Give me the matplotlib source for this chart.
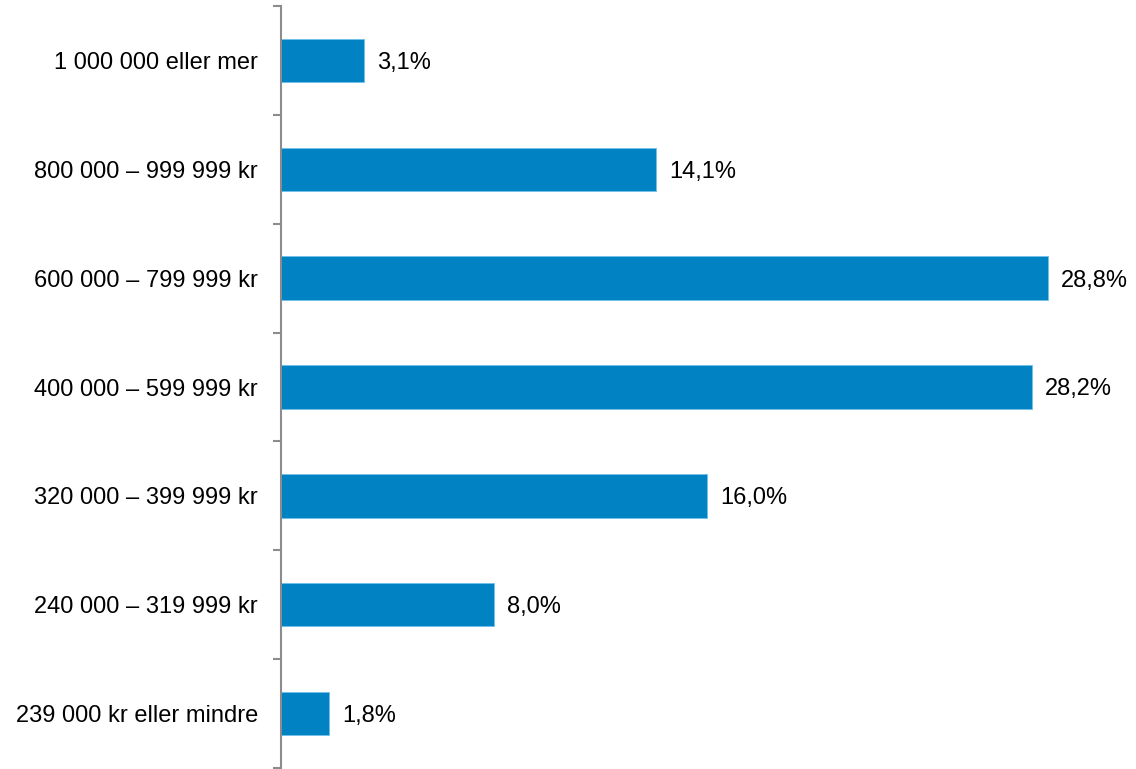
import numpy as np
import matplotlib
matplotlib.use("Agg")
import matplotlib.pyplot as plt

# Inntektsgrupper (nederst til øverst)
kategorier = [
    "239 000 kr eller mindre",
    "240 000 – 319 999 kr",
    "320 000 – 399 999 kr",
    "400 000 – 599 999 kr",
    "600 000 – 799 999 kr",
    "800 000 – 999 999 kr",
    "1 000 000 eller mer",
]
andel = [1.8, 8.0, 16.0, 28.2, 28.8, 14.1, 3.1]

plt.rcParams['font.family'] = ['Liberation Sans', 'DejaVu Sans']

fig = plt.figure(figsize=(11.36, 7.69), dpi=100)
ax = fig.add_axes([281 / 1136, 1 / 769, 852 / 1136, 762 / 769])

y = np.arange(len(kategorier))
ax.barh(y, andel, height=0.4, color='#0082C3', edgecolor='#6EC1EA', linewidth=0.6)

for yi, v in zip(y, andel):
    ax.text(v + 0.5, yi, f"{v:.1f}".replace('.', ',') + "%", va='center_baseline', ha='left',
            fontsize=17, color='black')

ax.set_xlim(0, 32)
ax.set_ylim(-0.5, len(kategorier) - 0.5)

ax.set_yticks(y)
ax.set_yticklabels(kategorier, fontsize=17)
ax.tick_params(axis='y', which='major', length=0, pad=16.5)
ax.set_yticks(np.arange(-0.5, len(kategorier)), minor=True)
ax.tick_params(axis='y', which='minor', length=6, width=1.5, color='#8c8c8c', direction='out')
ax.set_xticks([])

for s in ['top', 'right', 'bottom']:
    ax.spines[s].set_visible(False)
ax.spines['left'].set_color('#8c8c8c')
ax.spines['left'].set_linewidth(1.5)

fig.savefig('out.png', dpi=100)
